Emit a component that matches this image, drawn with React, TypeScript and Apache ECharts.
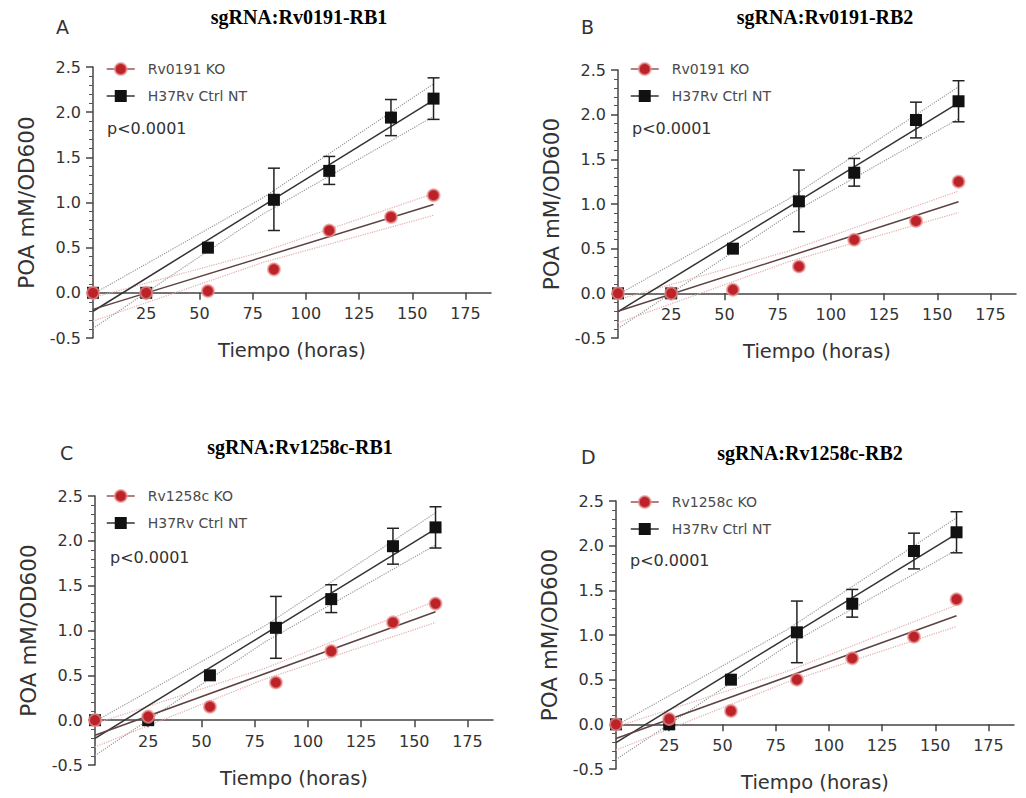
import React, { useEffect, useRef } from "react";
import * as echarts from "echarts";

// ---------- data ----------
const timeHours = [0, 25, 54, 85, 111, 140, 160];
const ctrlMean = [0, 0, 0.5, 1.03, 1.35, 1.94, 2.15];
const ctrlLow = [0, 0, 0.5, 0.69, 1.2, 1.74, 1.92];
const ctrlHigh = [0, 0, 0.5, 1.38, 1.51, 2.14, 2.38];
const koA = [0, 0, 0.02, 0.26, 0.69, 0.84, 1.08];
const koB = [0, 0, 0.04, 0.3, 0.6, 0.81, 1.25];
const koC = [0, 0.04, 0.15, 0.42, 0.77, 1.09, 1.3];
const koD = [0, 0.06, 0.15, 0.5, 0.74, 0.98, 1.4];
const koData = [koA, koB, koC, koD];

const panelLetters = ["A", "B", "C", "D"];
const panelTitles = ["sgRNA:Rv0191-RB1", "sgRNA:Rv0191-RB2", "sgRNA:Rv1258c-RB1", "sgRNA:Rv1258c-RB2"];
const koNames = ["Rv0191 KO", "Rv0191 KO", "Rv1258c KO", "Rv1258c KO"];
const ctrlName = "H37Rv Ctrl NT";
const pValueText = "p<0.0001";
const xTickValues = [25, 50, 75, 100, 125, 150, 175];
const xAxisTitle = "Tiempo (horas)";
const yAxisTitle = "POA mM/OD600";
const yMin = -0.5;
const yMax = 2.5;

// 95% confidence band half-widths, at bandX
const bandX = [0, 80, 160];
const ctrlBandHalf = [0.19, 0.09, 0.18];
const koBandHalf = [0.13, 0.06, 0.12];

// ---------- layout ----------
const layouts = [
  { left: 93, top: 67, height: 271, letter: [63, 27], title: [299, 17], legend: [106, 62], p: [107, 128] },
  { left: 618, top: 70, height: 268, letter: [588, 27], title: [825, 17], legend: [630, 62], p: [632, 128] },
  { left: 95, top: 496, height: 269, letter: [67, 453], title: [300, 447], legend: [106, 489], p: [110, 557] },
  { left: 616, top: 501, height: 268, letter: [588, 457], title: [810, 453], legend: [630, 495], p: [630, 560] },
];
const plotWidth = 398;
const xMax = 187;

const SANS = "DejaVu Sans";
const RED = "#bb2329";
const BLACK = "#111";

function linFit(xs: number[], ys: number[]) {
  const n = xs.length;
  const mx = xs.reduce((a, b) => a + b, 0) / n;
  const my = ys.reduce((a, b) => a + b, 0) / n;
  let sxy = 0;
  let sxx = 0;
  for (let k = 0; k < n; k++) {
    sxy += (xs[k] - mx) * (ys[k] - my);
    sxx += (xs[k] - mx) * (xs[k] - mx);
  }
  const slope = sxy / sxx;
  return { slope, intercept: my - slope * mx };
}

function buildOption() {
  const grid: any[] = [];
  const xAxis: any[] = [];
  const yAxis: any[] = [];
  const series: any[] = [];
  const legend: any[] = [];
  const graphic: any[] = [];

  layouts.forEach((L, i) => {
    grid.push({ left: L.left, top: L.top, width: plotWidth, height: L.height, containLabel: false });
    // x axis drawn at y = 0: shift it up from the grid bottom
    const zeroOffset = -L.height * ((0 - yMin) / (yMax - yMin));
    xAxis.push({
      gridIndex: i,
      type: "value",
      min: 0,
      max: xMax,
      interval: 25,
      offset: zeroOffset,
      axisLine: { show: true, onZero: false, lineStyle: { color: "#444", width: 1.5 } },
      axisTick: { show: true, customValues: xTickValues, length: 7, lineStyle: { color: "#444", width: 1.5 } },
      axisLabel: { customValues: xTickValues, fontSize: 16, color: "#333", fontFamily: SANS, margin: 13 },
      splitLine: { show: false },
      name: xAxisTitle,
      nameLocation: "middle",
      nameGap: 48,
      nameTextStyle: { fontSize: 19.5, color: "#333", fontFamily: SANS },
    });
    yAxis.push({
      gridIndex: i,
      type: "value",
      min: yMin,
      max: yMax,
      interval: 0.5,
      axisLine: { show: true, onZero: false, lineStyle: { color: "#444", width: 1.5 } },
      axisTick: { show: true, length: 7, lineStyle: { color: "#444", width: 1.5 } },
      minorTick: { show: true, splitNumber: 5, length: 4, lineStyle: { color: "#555", width: 1 } },
      axisLabel: {
        fontSize: 16,
        color: "#333",
        fontFamily: SANS,
        margin: 12,
        formatter: (v: number) => v.toFixed(1),
      },
      splitLine: { show: false },
      name: yAxisTitle,
      nameLocation: "middle",
      nameRotate: 90,
      nameGap: 56,
      nameTextStyle: { fontSize: 21.5, color: "#333", fontFamily: SANS },
    });

    const ko = koData[i];
    const fits = [
      { f: linFit(timeHours, ctrlMean), half: ctrlBandHalf, line: "#333", band: "#9a9a9a" },
      { f: linFit(timeHours, ko), half: koBandHalf, line: "#5e4242", band: "#e2adad" },
    ];
    const x0 = timeHours[0];
    const x1 = timeHours[timeHours.length - 1];
    fits.forEach((ft) => {
      const up = bandX.map((x, k) => [x, ft.f.intercept + ft.f.slope * x + ft.half[k]]);
      const dn = bandX.map((x, k) => [x, ft.f.intercept + ft.f.slope * x - ft.half[k]]);
      [up, dn].forEach((d) =>
        series.push({
          type: "line",
          xAxisIndex: i,
          yAxisIndex: i,
          data: d,
          symbol: "none",
          silent: true,
          z: 1,
          lineStyle: { color: ft.band, width: 1.2, type: "dotted" },
        })
      );
      series.push({
        type: "line",
        xAxisIndex: i,
        yAxisIndex: i,
        data: [
          [x0, ft.f.intercept + ft.f.slope * x0],
          [x1, ft.f.intercept + ft.f.slope * x1],
        ],
        symbol: "none",
        silent: true,
        z: 2,
        lineStyle: { color: ft.line, width: 1.5 },
      });
    });

    // error bars for control
    series.push({
      type: "custom",
      xAxisIndex: i,
      yAxisIndex: i,
      z: 3,
      silent: true,
      data: timeHours
        .map((t, k) => [t, ctrlLow[k], ctrlHigh[k]])
        .filter((d) => d[2] > d[1]),
      renderItem: (params: any, api: any) => {
        const x = api.value(0);
        const pHi = api.coord([x, api.value(2)]);
        const pLo = api.coord([x, api.value(1)]);
        const hw = 6;
        const st = { stroke: "#222", lineWidth: 1.5 };
        return {
          type: "group",
          children: [
            { type: "line", shape: { x1: pHi[0], y1: pHi[1], x2: pLo[0], y2: pLo[1] }, style: st },
            { type: "line", shape: { x1: pHi[0] - hw, y1: pHi[1], x2: pHi[0] + hw, y2: pHi[1] }, style: st },
            { type: "line", shape: { x1: pLo[0] - hw, y1: pLo[1], x2: pLo[0] + hw, y2: pLo[1] }, style: st },
          ],
        };
      },
    });

    series.push({
      type: "line",
      name: ctrlName,
      xAxisIndex: i,
      yAxisIndex: i,
      data: timeHours.map((t, k) => [t, ctrlMean[k]]),
      symbol: "rect",
      symbolSize: 12,
      z: 4,
      itemStyle: { color: BLACK },
      lineStyle: { color: "#333", width: 1.5, opacity: 0 },
    });
    series.push({
      type: "line",
      name: koNames[i],
      xAxisIndex: i,
      yAxisIndex: i,
      data: timeHours.map((t, k) => [t, ko[k]]),
      symbol: "circle",
      symbolSize: 12,
      z: 5,
      itemStyle: { color: RED, borderColor: "rgba(235,150,150,0.7)", borderWidth: 2 },
      lineStyle: { color: "#9a5555", width: 1.5, opacity: 0 },
    });

    legend.push({
      data: [koNames[i], ctrlName],
      orient: "vertical",
      left: L.legend[0],
      top: L.legend[1],
      itemWidth: 28,
      itemHeight: 15,
      itemGap: 13,
      selectedMode: false,
      padding: 0,
      lineStyle: { opacity: 1, width: 1.5 },
      textStyle: { fontSize: 14, color: "#4a4a4a", fontFamily: SANS, padding: [0, 0, 0, 8] },
    });

    graphic.push({
      type: "text",
      left: L.letter[0] - 7,
      top: L.letter[1] - 10,
      style: { text: panelLetters[i], fontSize: 19, fill: "#333", fontFamily: SANS },
    });
    graphic.push({
      type: "text",
      x: L.title[0],
      y: L.title[1],
      style: {
        text: panelTitles[i],
        fontSize: 20,
        fontWeight: "bold",
        fill: "#000",
        fontFamily: "Liberation Serif",
        align: "center",
        verticalAlign: "middle",
      },
    });
    graphic.push({
      type: "text",
      x: L.p[0],
      y: L.p[1],
      style: { text: pValueText, fontSize: 16, fill: "#333", fontFamily: SANS, verticalAlign: "middle" },
    });
  });

  return {
    animation: false,
    backgroundColor: "#fff",
    grid,
    xAxis,
    yAxis,
    series,
    legend,
    graphic,
  };
}

export default function App() {
  const ref = useRef<HTMLDivElement>(null);
  useEffect(() => {
    if (!ref.current) return;
    const chart = echarts.init(ref.current, undefined, { renderer: "svg" });
    chart.setOption(buildOption() as any);
    return () => chart.dispose();
  }, []);
  return (
    <div
      ref={ref}
      style={{ position: "absolute", left: 0, top: 0, width: 1026, height: 798 }}
    />
  );
}
